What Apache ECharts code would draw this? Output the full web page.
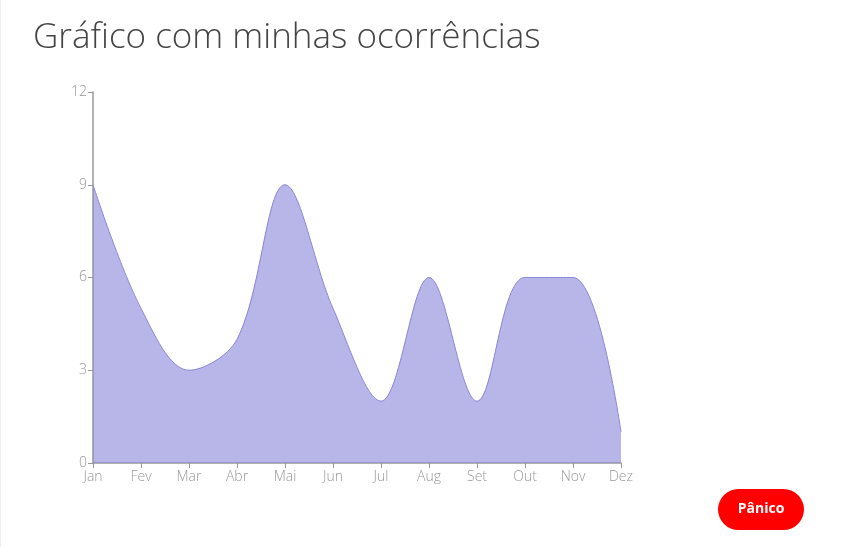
<!DOCTYPE html>
<html><head><meta charset="utf-8">
<script src="https://cdn.jsdelivr.net/npm/echarts@6/dist/echarts.min.js"></script>
<style>html,body{margin:0;padding:0;background:#fff}#c{width:843px;height:547px;border-left:1px solid #eee;box-sizing:border-box}</style>
</head><body><div id="c"></div>
<script>
const months = ['Jan','Fev','Mar','Abr','Mai','Jun','Jul','Aug','Set','Out','Nov','Dez'];
const ocorrencias = [9,5,3,4,9,5,2,6,2,6,6,1];
const yTicks = [0,3,6,9,12];
const chart = echarts.init(document.getElementById('c'));
chart.setOption({
  animation:false,
  title:{text:'Gráfico com minhas ocorrências',left:27,top:16,textStyle:{fontFamily:'Open Sans',fontWeight:300,fontSize:35,color:'#444'}},
  grid:{left:92,right:222,top:92,bottom:84},
  xAxis:{type:'category',data:months,boundaryGap:false,
    axisLine:{lineStyle:{color:'#999',width:1.5}},
    axisTick:{length:5,lineStyle:{color:'#999'}},
    axisLabel:{color:'#999',fontFamily:'Open Sans',fontWeight:300,fontSize:14,margin:7},
    splitLine:{show:false}},
  yAxis:{type:'value',min:0,max:12,interval:3,
    axisLine:{show:true,lineStyle:{color:'#999',width:1.5}},
    axisTick:{show:true,length:5,lineStyle:{color:'#999'}},
    axisLabel:{color:'#999',fontFamily:'Open Sans',fontWeight:300,fontSize:14,margin:6,formatter:v=>yTicks.includes(v)?String(v):''},
    splitLine:{show:false}},
  series:[{type:'line',data:ocorrencias,smooth:0.35,symbol:'none',
    lineStyle:{color:'#8884d8',width:1},
    areaStyle:{color:'#8884d8',opacity:0.6}}],
  graphic:[{type:'group',left:717,top:489,children:[
    {type:'rect',shape:{x:0,y:0,width:86,height:41,r:20.5},style:{fill:'#ff0000'}},
    {type:'text',style:{x:43,y:20.5,text:'Pânico',fill:'#fff',font:'bold 14px "Open Sans"',align:'center',verticalAlign:'middle'}}
  ]}]
});
</script></body></html>
